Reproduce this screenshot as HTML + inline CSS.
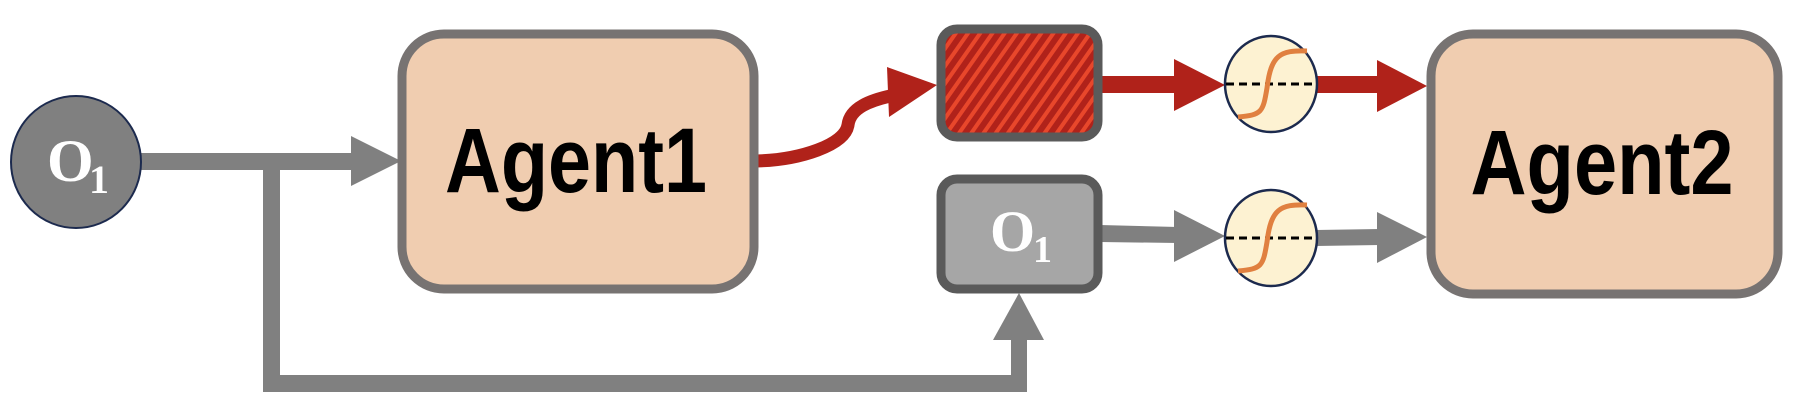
<!DOCTYPE html>
<html><head><meta charset="utf-8"><style>
html,body{margin:0;padding:0;background:#fff;width:1810px;height:410px;overflow:hidden}
svg{display:block}
.agent{font-family:"Liberation Sans",sans-serif;font-weight:bold;font-size:92px;fill:#000}
.o{font-family:"Liberation Serif",serif;font-weight:bold;fill:#fff}
</style></head><body>
<svg width="1810" height="410" viewBox="0 0 1810 410">
<defs>
<pattern id="hatch" patternUnits="userSpaceOnUse" width="10" height="10" patternTransform="rotate(35)">
<rect width="10" height="10" fill="#b0221a"/>
<rect width="4" height="10" fill="#e8472b"/>
</pattern>
</defs>
<g fill="#808080">
<rect x="140" y="153" width="215" height="17"/>
<polygon points="351,136 401,161 351,186"/>
<rect x="263" y="160" width="17" height="232"/>
<rect x="263" y="375" width="764" height="17"/>
<rect x="1011" y="335" width="16" height="57"/>
<polygon points="993,340 1019,293 1044,340"/>
<polygon points="1100,225 1178,227 1178,243 1100,242"/>
<polygon points="1174,210 1225,236 1174,262"/>
<polygon points="1316,230 1380,229 1380,245 1316,246"/>
<polygon points="1377,212 1427,237 1377,263"/>
</g>
<g>
<path d="M756,161 C800,160 845,145 848,125 C850,108 870,100 895,95" fill="none" stroke="#b0221a" stroke-width="13"/>
<polygon points="887,67 937,85 889,117" fill="#b0221a"/>
<rect x="1100" y="76" width="78" height="17" fill="#b0221a"/>
<polygon points="1174,59 1225,85 1174,111" fill="#b0221a"/>
<rect x="1316" y="76" width="64" height="17" fill="#b0221a"/>
<polygon points="1377,60 1427,86 1377,112" fill="#b0221a"/>
</g>
<g>
<ellipse cx="76" cy="162" rx="65" ry="66" fill="#808080" stroke="#1c2a4e" stroke-width="2"/>
<text x="47" y="181" class="o" font-size="60">O</text>
<text x="89" y="193" class="o" font-size="40">1</text>
</g>
<g>
<rect x="402" y="34" width="352" height="255" rx="42" fill="#f0cdb0" stroke="#777372" stroke-width="9"/>
<text x="576" y="192" text-anchor="middle" class="agent" textLength="262" lengthAdjust="spacingAndGlyphs">Agent1</text>
</g>
<g>
<rect x="941" y="29" width="157" height="108" rx="16" fill="url(#hatch)" stroke="#5a5a5a" stroke-width="9"/>
</g>
<g>
<rect x="941" y="179" width="157" height="110" rx="16" fill="#a6a6a6" stroke="#5a5a5a" stroke-width="9"/>
<text x="990" y="251" class="o" font-size="58">O</text>
<text x="1033" y="262" class="o" font-size="38">1</text>
</g>
<g>
<ellipse cx="1271" cy="84" rx="46" ry="48" fill="#fdf2d2" stroke="#1c2a4e" stroke-width="2.5"/>
<line x1="1226" y1="84" x2="1317" y2="84" stroke="#000" stroke-width="3" stroke-dasharray="8,5"/>
<path d="M1238,117 C1262,115 1263,112 1267,88 C1271,55 1280,50 1307,51" fill="none" stroke="#e08040" stroke-width="5"/>
</g>
<g>
<ellipse cx="1271" cy="238" rx="46" ry="48" fill="#fdf2d2" stroke="#1c2a4e" stroke-width="2.5"/>
<line x1="1226" y1="238" x2="1317" y2="238" stroke="#000" stroke-width="3" stroke-dasharray="8,5"/>
<path d="M1238,271 C1262,269 1263,266 1267,242 C1271,209 1280,204 1307,205" fill="none" stroke="#e08040" stroke-width="5"/>
</g>
<g>
<rect x="1431" y="34" width="347" height="260" rx="42" fill="#f0cdb0" stroke="#777372" stroke-width="9"/>
<text x="1602" y="194" text-anchor="middle" class="agent" textLength="263" lengthAdjust="spacingAndGlyphs">Agent2</text>
</g>
</svg>
</body></html>
